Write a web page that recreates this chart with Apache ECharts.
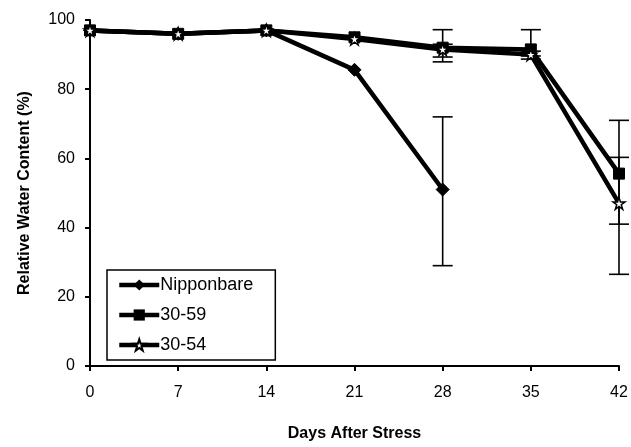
<!DOCTYPE html>
<html>
<head>
<meta charset="utf-8">
<script src="https://cdn.jsdelivr.net/npm/echarts@6/dist/echarts.min.js"></script>
<style>
  html, body { margin: 0; padding: 0; background: #fff; }
  #chart { width: 631px; height: 447px; }
</style>
</head>
<body>
<div id="chart"></div>
<script>
// ---- data ----
var days = [0, 7, 14, 21, 28, 35, 42];
var seriesNames = ['Nipponbare', '30-59', '30-54'];
var nipponbare = [97, 96, 97, 85.6, 51, null, null];
var line3059 = [97, 96, 97, 95, 92, 91.5, 55.6];
var line3054 = [97, 96, 97, 94.5, 91.5, 90, 47];
// error bars: [day, low, high]
var errNipponbare = [[28, 29, 72]];
var err3059 = [[28, 87.9, 97.2], [35, 88.7, 97.2], [42, 41, 71]];
var err3054 = [[28, 89.3, 93], [35, 89.6, 91], [42, 26.5, 60.3]];
var yTicks = [0, 20, 40, 60, 80, 100];

function pairs(vals) {
  var out = [];
  for (var i = 0; i < days.length; i++) {
    if (vals[i] !== null) out.push([days[i], vals[i]]);
  }
  return out;
}

function errSeries(data) {
  return {
    type: 'custom',
    silent: true,
    z: 3,
    data: data,
    renderItem: function (params, api) {
      var x = api.value(0);
      var lo = api.coord([x, api.value(1)]);
      var hi = api.coord([x, api.value(2)]);
      var w = 10;
      var st = { stroke: '#000', lineWidth: 1.6 };
      return {
        type: 'group',
        children: [
          { type: 'line', shape: { x1: lo[0], y1: lo[1], x2: hi[0], y2: hi[1] }, style: st },
          { type: 'line', shape: { x1: lo[0] - w, y1: lo[1], x2: lo[0] + w, y2: lo[1] }, style: st },
          { type: 'line', shape: { x1: hi[0] - w, y1: hi[1], x2: hi[0] + w, y2: hi[1] }, style: st }
        ]
      };
    }
  };
}

var starPath = 'path://M5,0 L6.2,3.8 L10,3.8 L6.9,6.1 L8.1,10 L5,7.6 L1.9,10 L3.1,6.1 L0,3.8 L3.8,3.8 Z';

var chart = echarts.init(document.getElementById('chart'), null, { renderer: 'canvas' });
chart.setOption({
  backgroundColor: '#fff',
  animation: false,
  textStyle: { fontFamily: 'Liberation Sans, Arial, sans-serif', color: '#000' },
  grid: { left: 90, right: 12, top: 20, bottom: 74, containLabel: false },
  legend: {
    orient: 'vertical',
    left: 107,
    top: 270,
    itemWidth: 40,
    itemHeight: 14,
    itemGap: 12,
    padding: [6, 22, 6, 10],
    borderColor: '#000',
    borderWidth: 1.5,
    backgroundColor: '#fff',
    lineStyle: { width: 4.5, color: '#000' },
    textStyle: { fontSize: 18, color: '#000', fontFamily: 'Liberation Sans, Arial, sans-serif', padding: [0, 0, 0, -4] },
    data: seriesNames
  },
  xAxis: {
    type: 'value',
    min: 0, max: 42, interval: 7,
    name: 'Days After Stress',
    nameLocation: 'middle',
    nameGap: 60,
    nameTextStyle: { fontSize: 16, fontWeight: 'bold', color: '#000' },
    axisLine: { lineStyle: { color: '#000', width: 2 } },
    axisTick: { show: true, length: 5, lineStyle: { color: '#000', width: 2 } },
    axisLabel: { fontSize: 16, color: '#000', margin: 19 },
    splitLine: { show: false }
  },
  yAxis: {
    type: 'value',
    min: yTicks[0], max: yTicks[yTicks.length - 1], interval: 20,
    name: 'Relative Water Content (%)',
    nameLocation: 'middle',
    nameGap: 57,
    nameTextStyle: { fontSize: 16, fontWeight: 'bold', color: '#000' },
    axisLine: { show: true, lineStyle: { color: '#000', width: 2 } },
    axisTick: { show: true, length: 5, lineStyle: { color: '#000', width: 2 } },
    axisLabel: { fontSize: 16, color: '#000', margin: 15 },
    splitLine: { show: false }
  },
  series: [
    {
      name: seriesNames[0], type: 'line', z: 4,
      data: pairs(nipponbare),
      symbol: 'diamond', symbolSize: 13,
      lineStyle: { color: '#000', width: 4.5 },
      itemStyle: { color: '#000', borderColor: '#000' }
    },
    {
      name: seriesNames[1], type: 'line', z: 4,
      data: pairs(line3059),
      symbol: 'rect', symbolSize: 11,
      lineStyle: { color: '#000', width: 4.5 },
      itemStyle: { color: '#000', borderColor: '#000' }
    },
    {
      name: seriesNames[2], type: 'line', z: 5,
      data: pairs(line3054),
      symbol: starPath, symbolSize: 12,
      lineStyle: { color: '#000', width: 4.5 },
      itemStyle: { color: '#fff', borderColor: '#000', borderWidth: 1.5 }
    },
    errSeries(errNipponbare),
    errSeries(err3059),
    errSeries(err3054)
  ]
});
</script>
</body>
</html>
